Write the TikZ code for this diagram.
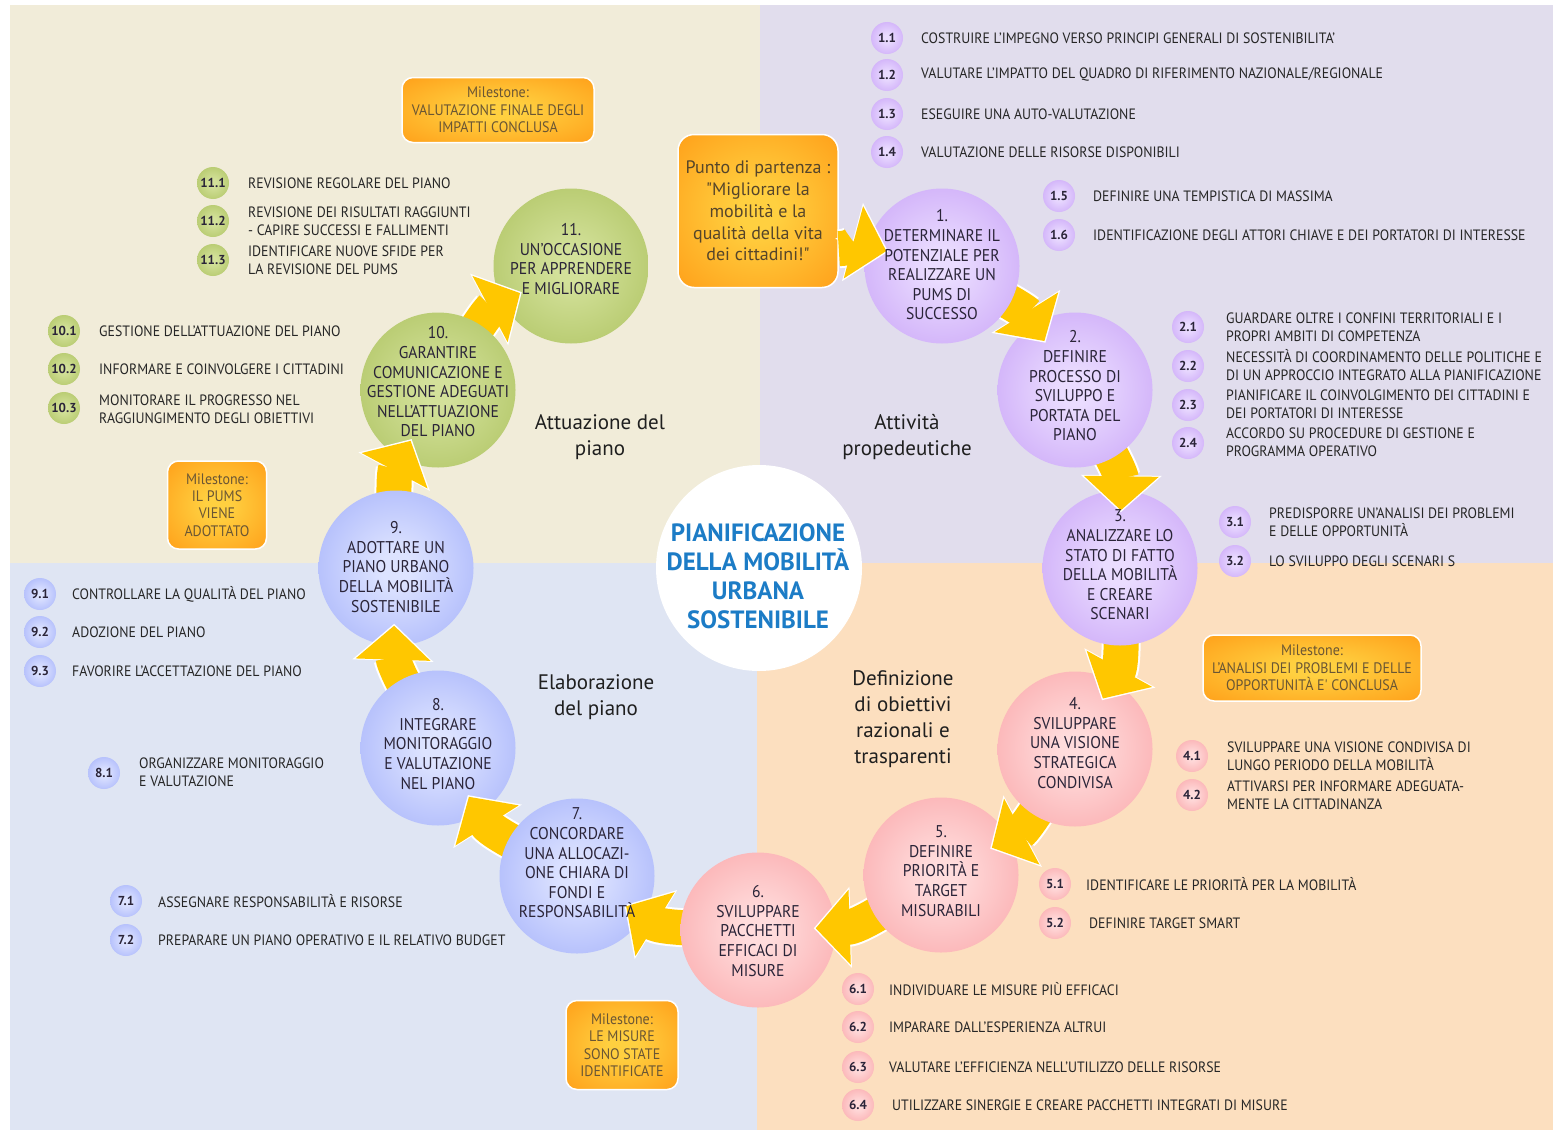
\documentclass[tikz,border=0pt]{standalone}
\usepackage{fontspec}
\setmainfont{PT Sans}
\newfontfamily\narrowfont[FakeStretch=0.92]{PT Sans}
\newfontfamily\quotefont{PT Sans}
\usetikzlibrary{arrows.meta}

\definecolor{bgbeige}{HTML}{F1ECD9}
\definecolor{bglilac}{HTML}{E1DDED}
\definecolor{bgblue}{HTML}{DFE5F3}
\definecolor{bgpeach}{HTML}{FCDFBF}
\definecolor{lilacin}{HTML}{EADCFF}
\definecolor{lilacout}{HTML}{C49BF6}
\definecolor{rosein}{HTML}{FFDCDC}
\definecolor{roseout}{HTML}{F99FA2}
\definecolor{bluein}{HTML}{DDE3FF}
\definecolor{blueout}{HTML}{9BA9FA}
\definecolor{greenin}{HTML}{D3E19A}
\definecolor{greenout}{HTML}{A8BE58}
\definecolor{orangein}{HTML}{FFD040}
\definecolor{orangeout}{HTML}{FFA31C}
\definecolor{flowgold}{HTML}{FFC700}
\definecolor{inktext}{HTML}{2A2438}
\definecolor{msink}{HTML}{6A5634}
\definecolor{titleblue}{HTML}{1C7CC6}

\pgfdeclareradialshading{lilacglow}{\pgfpoint{0bp}{0bp}}{color(0bp)=(lilacin); color(5bp)=(lilacin); color(40bp)=(lilacout); color(50bp)=(lilacout)}
\pgfdeclareradialshading{roseglow}{\pgfpoint{0bp}{0bp}}{color(0bp)=(rosein); color(5bp)=(rosein); color(40bp)=(roseout); color(50bp)=(roseout)}
\pgfdeclareradialshading{blueglow}{\pgfpoint{0bp}{0bp}}{color(0bp)=(bluein); color(5bp)=(bluein); color(40bp)=(blueout); color(50bp)=(blueout)}
\pgfdeclareradialshading{greenglow}{\pgfpoint{0bp}{0bp}}{color(0bp)=(greenin); color(5bp)=(greenin); color(40bp)=(greenout); color(50bp)=(greenout)}
\pgfdeclareradialshading{orangeglow}{\pgfpoint{0bp}{0bp}}{color(0bp)=(orangein); color(6bp)=(orangein); color(34bp)=(orangeout); color(50bp)=(orangeout)}

\tikzset{
  ghost/.style={circle, minimum size=155pt, inner sep=0pt},
  steptext/.style={align=center, inner sep=0pt, text=inktext, font=\narrowfont\fontsize{17}{19.6}\selectfont},
  bubble/.style={circle, shade, minimum size=32pt, inner sep=0pt, text=inktext, font=\bfseries\fontsize{13}{13}\selectfont},
  lilacbubble/.style={bubble, shading=lilacglow},
  rosebubble/.style={bubble, shading=roseglow},
  bluebubble/.style={bubble, shading=blueglow},
  greenbubble/.style={bubble, shading=greenglow},
  itemtext/.style={anchor=west, align=left, inner sep=0pt, text=black!85, font=\narrowfont\fontsize{15}{17.8}\selectfont},
  milestone/.style={shade, shading=orangeglow, draw=white, line width=1.5pt, rounded corners=11pt, align=center, inner sep=0pt, text=msink, font=\narrowfont\fontsize{15.2}{17.4}\selectfont},
  phase/.style={align=center, inner sep=0pt, text=black!88, font=\fontsize{21}{26}\selectfont},
  rim/.style={draw=white, line width=39pt, -{Triangle[length=37pt,width=79pt]}, shorten <=-18pt, shorten >=-22pt},
  flow/.style={draw=flowgold, line width=35pt, -{Triangle[length=34pt,width=73pt]}, shorten <=-18pt, shorten >=-20pt},
}

\begin{document}
\begin{tikzpicture}[x=1pt, y=-1pt]
  \fill[white] (0,0) rectangle (1554,1132);
  \useasboundingbox (0,0) rectangle (1554,1132);
  % the four phases
  \fill[bgbeige] (10,5) rectangle (760,563);
  \fill[bglilac] (760,5) rectangle (1553,563);
  \fill[bgblue] (10,563) rectangle (757,1130);
  \fill[bgpeach] (757,563) rectangle (1553,1130);

  \node[circle, fill=white, minimum size=206pt, inner sep=0pt] (hub) at (759,568) {};
  \node[align=center, inner sep=0pt, text=titleblue, font=\bfseries\fontsize{25}{29}\selectfont] (title) at (758,576)
    {PIANIFICAZIONE\\DELLA MOBILITÀ\\URBANA\\SOSTENIBILE};

  \node[phase] (ph1) at (907,437) {Attività\\propedeutiche};
  \node[phase] (ph2) at (903,719) {Definizione\\di obiettivi\\razionali e\\trasparenti};
  \node[phase] (ph3) at (596,697) {Elaborazione\\del piano};
  \node[phase] (ph4) at (600,437) {Attuazione del\\piano};

  % milestones
  \node[milestone, minimum width=192pt, minimum height=65pt] (ms1) at (498,110) {Milestone:\\VALUTAZIONE FINALE DEGLI\\IMPATTI CONCLUSA};
  \node[milestone, minimum width=99pt, minimum height=88pt] (ms2) at (217,505) {Milestone:\\IL PUMS\\VIENE\\ADOTTATO};
  \node[milestone, minimum width=218pt, minimum height=66pt] (ms3) at (1312,668) {Milestone:\\L’ANALISI DEI PROBLEMI E DELLE\\OPPORTUNITÀ E' CONCLUSA};
  \node[milestone, minimum width=112pt, minimum height=89pt] (ms4) at (622,1045) {Milestone:\\LE MISURE\\SONO STATE\\IDENTIFICATE};
  \node[milestone, minimum width=160pt, minimum height=153pt, rounded corners=16pt, text=msink!80!black, font=\quotefont\fontsize{18}{21.8}\selectfont] (start) at (758,211)
    {Punto di partenza :\\"Migliorare la\\mobilità e la\\qualità della vita\\dei cittadini!"};

  % the eleven steps
  \node[ghost] (c1) at (942,266) {};
  \node[ghost] (c2) at (1075,390) {};
  \node[ghost] (c3) at (1120,568) {};
  \node[ghost] (c4) at (1075,749) {};
  \node[ghost] (c5) at (941,875) {};
  \node[ghost] (c6) at (758,930) {};
  \node[ghost] (c7) at (577,876) {};
  \node[ghost] (c8) at (438,748) {};
  \node[ghost] (c9) at (396,568) {};
  \node[ghost] (c10) at (438,390) {};
  \node[ghost] (c11) at (571,266) {};

  % the ring, drawn from the last step back to the first
  \shade[shading=greenglow] (c11.center) circle (77.5pt);
  \draw[rim] (c10) to[bend left=15] (c11); \draw[flow] (c10) to[bend left=15] (c11);
  \shade[shading=greenglow] (c10.center) circle (77.5pt);
  \draw[rim] (c9) to[bend left=15] (c10); \draw[flow] (c9) to[bend left=15] (c10);
  \shade[shading=blueglow] (c9.center) circle (77.5pt);
  \draw[rim] (c8) to[bend left=15] (c9); \draw[flow] (c8) to[bend left=15] (c9);
  \shade[shading=blueglow] (c8.center) circle (77.5pt);
  \draw[rim] (c7) to[bend left=15] (c8); \draw[flow] (c7) to[bend left=15] (c8);
  \shade[shading=blueglow] (c7.center) circle (77.5pt);
  \draw[rim] (c6) to[bend left=15] (c7); \draw[flow] (c6) to[bend left=15] (c7);
  \shade[shading=roseglow] (c6.center) circle (77.5pt);
  \draw[rim] (c5) to[bend left=15] (c6); \draw[flow] (c5) to[bend left=15] (c6);
  \shade[shading=roseglow] (c5.center) circle (77.5pt);
  \draw[rim] (c4) to[bend left=15] (c5); \draw[flow] (c4) to[bend left=15] (c5);
  \shade[shading=roseglow] (c4.center) circle (77.5pt);
  \draw[rim] (c3) to[bend left=15] (c4); \draw[flow] (c3) to[bend left=15] (c4);
  \shade[shading=lilacglow] (c3.center) circle (77.5pt);
  \draw[rim] (c2) to[bend left=15] (c3); \draw[flow] (c2) to[bend left=15] (c3);
  \shade[shading=lilacglow] (c2.center) circle (77.5pt);
  \draw[rim] (c1) to[bend left=15] (c2); \draw[flow] (c1) to[bend left=15] (c2);
  \shade[shading=lilacglow] (c1.center) circle (77.5pt);
  \draw[rim, shorten <=0pt] (start.-25) to[out=0, in=165] (c1);
  \draw[flow, shorten <=0pt] (start.-25) to[out=0, in=165] (c1);

  \node[steptext] (t1) at (942,265) {1.\\DETERMINARE IL\\POTENZIALE PER\\REALIZZARE UN\\PUMS DI\\SUCCESSO};
  \node[steptext] (t2) at (1075,386) {2.\\DEFINIRE\\PROCESSO DI\\SVILUPPO E\\PORTATA DEL\\PIANO};
  \node[steptext] (t3) at (1120,565) {3.\\ANALIZZARE LO\\STATO DI FATTO\\DELLA MOBILITÀ\\E CREARE\\SCENARI};
  \node[steptext] (t4) at (1075,743) {4.\\SVILUPPARE\\UNA VISIONE\\STRATEGICA\\CONDIVISA};
  \node[steptext] (t5) at (941,871) {5.\\DEFINIRE\\PRIORITÀ E\\TARGET\\MISURABILI};
  \node[steptext] (t6) at (758,931) {6.\\SVILUPPARE\\PACCHETTI\\EFFICACI DI\\MISURE};
  \node[steptext] (t7) at (577,863) {7.\\CONCORDARE\\UNA ALLOCAZI-\\ONE CHIARA DI\\FONDI E\\RESPONSABILITÀ};
  \node[steptext] (t8) at (438,744) {8.\\INTEGRARE\\MONITORAGGIO\\E VALUTAZIONE\\NEL PIANO};
  \node[steptext] (t9) at (396,567) {9.\\ADOTTARE UN\\PIANO URBANO\\DELLA MOBILITÀ\\SOSTENIBILE};
  \node[steptext] (t10) at (438,382) {10.\\GARANTIRE\\COMUNICAZIONE E\\GESTIONE ADEGUATI\\NELL’ATTUAZIONE\\DEL PIANO};
  \node[steptext] (t11) at (571,259) {11.\\UN’OCCASIONE\\PER APPRENDERE\\E MIGLIORARE};

  % actions of step 1
  \node[lilacbubble] (b11) at (887,38) {1.1};
  \node[itemtext] (i11) at (921,38) {COSTRUIRE L’IMPEGNO VERSO PRINCIPI GENERALI DI SOSTENIBILITA’};
  \node[lilacbubble] (b12) at (887,75) {1.2};
  \node[itemtext] (i12) at (921,75) {VALUTARE L’IMPATTO DEL QUADRO DI RIFERIMENTO NAZIONALE/REGIONALE};
  \node[lilacbubble] (b13) at (887,114) {1.3};
  \node[itemtext] (i13) at (921,114) {ESEGUIRE UNA AUTO-VALUTAZIONE};
  \node[lilacbubble] (b14) at (887,152) {1.4};
  \node[itemtext] (i14) at (921,152) {VALUTAZIONE DELLE RISORSE DISPONIBILI};
  \node[lilacbubble] (b15) at (1059,196) {1.5};
  \node[itemtext] (i15) at (1093,196) {DEFINIRE UNA TEMPISTICA DI MASSIMA};
  \node[lilacbubble] (b16) at (1059,235) {1.6};
  \node[itemtext] (i16) at (1093,235) {IDENTIFICAZIONE DEGLI ATTORI CHIAVE E DEI PORTATORI DI INTERESSE};
  % actions of step 2
  \node[lilacbubble] (b21) at (1188,327) {2.1};
  \node[itemtext] (i21) at (1226,327) {GUARDARE OLTRE I CONFINI TERRITORIALI E I\\PROPRI AMBITI DI COMPETENZA};
  \node[lilacbubble] (b22) at (1188,366) {2.2};
  \node[itemtext] (i22) at (1226,365) {NECESSITÀ DI COORDINAMENTO DELLE POLITICHE E\\DI UN APPROCCIO INTEGRATO ALLA PIANIFICAZIONE};
  \node[lilacbubble] (b23) at (1188,405) {2.3};
  \node[itemtext] (i23) at (1226,404) {PIANIFICARE IL COINVOLGIMENTO DEI CITTADINI E\\DEI PORTATORI DI INTERESSE};
  \node[lilacbubble] (b24) at (1188,443) {2.4};
  \node[itemtext] (i24) at (1226,442) {ACCORDO SU PROCEDURE DI GESTIONE E\\PROGRAMMA OPERATIVO};
  % actions of step 3
  \node[lilacbubble] (b31) at (1235,522) {3.1};
  \node[itemtext] (i31) at (1269,522) {PREDISPORRE UN’ANALISI DEI PROBLEMI\\E DELLE OPPORTUNITÀ};
  \node[lilacbubble] (b32) at (1235,561) {3.2};
  \node[itemtext] (i32) at (1269,561) {LO SVILUPPO DEGLI SCENARI S};
  % actions of step 4
  \node[rosebubble] (b41) at (1192,756) {4.1};
  \node[itemtext] (i41) at (1227,756) {SVILUPPARE UNA VISIONE CONDIVISA DI\\LUNGO PERIODO DELLA MOBILITÀ};
  \node[rosebubble] (b42) at (1192,795) {4.2};
  \node[itemtext] (i42) at (1227,795) {ATTIVARSI PER INFORMARE ADEGUATA-\\MENTE LA CITTADINANZA};
  % actions of step 5
  \node[rosebubble] (b51) at (1055,884) {5.1};
  \node[itemtext] (i51) at (1086,884) {IDENTIFICARE LE PRIORITÀ PER LA MOBILITÀ};
  \node[rosebubble] (b52) at (1055,923) {5.2};
  \node[itemtext] (i52) at (1089,923) {DEFINIRE TARGET SMART};
  % actions of step 6
  \node[rosebubble] (b61) at (858,989) {6.1};
  \node[itemtext] (i61) at (889,989) {INDIVIDUARE LE MISURE PIÙ EFFICACI};
  \node[rosebubble] (b62) at (858,1027) {6.2};
  \node[itemtext] (i62) at (889,1027) {IMPARARE DALL’ESPERIENZA ALTRUI};
  \node[rosebubble] (b63) at (858,1067) {6.3};
  \node[itemtext] (i63) at (889,1067) {VALUTARE L’EFFICIENZA NELL’UTILIZZO DELLE RISORSE};
  \node[rosebubble] (b64) at (858,1105) {6.4};
  \node[itemtext] (i64) at (892,1105) {UTILIZZARE SINERGIE E CREARE PACCHETTI INTEGRATI DI MISURE};
  % actions of step 7
  \node[bluebubble] (b71) at (126,901) {7.1};
  \node[itemtext] (i71) at (158,901) {ASSEGNARE RESPONSABILITÀ E RISORSE};
  \node[bluebubble] (b72) at (126,940) {7.2};
  \node[itemtext] (i72) at (158,940) {PREPARARE UN PIANO OPERATIVO E IL RELATIVO BUDGET};
  % actions of step 8
  \node[bluebubble] (b81) at (104,773) {8.1};
  \node[itemtext] (i81) at (139,772) {ORGANIZZARE MONITORAGGIO\\E VALUTAZIONE};
  % actions of step 9
  \node[bluebubble] (b91) at (40,594) {9.1};
  \node[itemtext] (i91) at (72,594) {CONTROLLARE LA QUALITÀ DEL PIANO};
  \node[bluebubble] (b92) at (40,632) {9.2};
  \node[itemtext] (i92) at (72,632) {ADOZIONE DEL PIANO};
  \node[bluebubble] (b93) at (40,671) {9.3};
  \node[itemtext] (i93) at (72,671) {FAVORIRE L’ACCETTAZIONE DEL PIANO};
  % actions of step 10
  \node[greenbubble] (b101) at (64,331) {10.1};
  \node[itemtext] (i101) at (99,331) {GESTIONE DELL’ATTUAZIONE DEL PIANO};
  \node[greenbubble] (b102) at (64,369) {10.2};
  \node[itemtext] (i102) at (99,369) {INFORMARE E COINVOLGERE I CITTADINI};
  \node[greenbubble] (b103) at (64,408) {10.3};
  \node[itemtext] (i103) at (99,409) {MONITORARE IL PROGRESSO NEL\\RAGGIUNGIMENTO DEGLI OBIETTIVI};
  % actions of step 11
  \node[greenbubble] (b111) at (213,183) {11.1};
  \node[itemtext] (i111) at (248,183) {REVISIONE REGOLARE DEL PIANO};
  \node[greenbubble] (b112) at (213,221) {11.2};
  \node[itemtext] (i112) at (248,221) {REVISIONE DEI RISULTATI RAGGIUNTI\\- CAPIRE SUCCESSI E FALLIMENTI};
  \node[greenbubble] (b113) at (213,260) {11.3};
  \node[itemtext] (i113) at (248,260) {IDENTIFICARE NUOVE SFIDE PER\\LA REVISIONE DEL PUMS};
\end{tikzpicture}
\end{document}
